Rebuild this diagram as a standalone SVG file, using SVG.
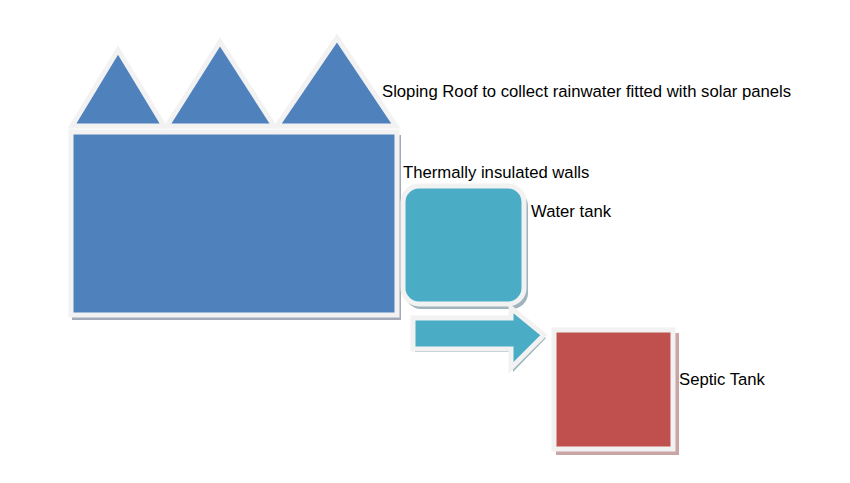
<svg xmlns="http://www.w3.org/2000/svg" width="850" height="483" viewBox="0 0 850 483">
<style>
.lbl{font-family:"Liberation Sans",Arial,sans-serif;font-size:16.7px;fill:#000}
.edge{stroke:#f2f2f2;stroke-width:5;stroke-linejoin:miter}
.sh{fill:#a3abb8}
.blue{fill:#4f81bd}
.teal{fill:#4bacc6}
.red{fill:#c0504d}
</style>
<rect width="850" height="483" fill="#ffffff"/>
<g id="roof">
<polygon class="edge blue" points="118,50 72,126 164,126"/>
<polygon class="edge blue" points="220,42 167,126 274,126"/>
<polygon class="edge blue" points="337,38 277,126 396,126"/>
</g>
<g id="walls">
<rect class="sh" x="72" y="135" width="329" height="185"/>
<rect class="edge blue" x="71" y="132" width="326" height="183"/>
</g>
<g id="water-tank">
<rect class="sh" x="405" y="190" width="123" height="119" rx="16" style="fill:#9fb4bd"/>
<rect class="edge teal" x="403" y="186" width="121" height="118" rx="16"/>
</g>
<g id="connectors">
<polygon class="sh" points="415,322 513,322 513,312 546,338 513,372 513,352 415,352" style="fill:#9fb4bd"/>
<polygon class="edge teal" points="413,318 511,318 511,308 544,335 511,368 511,349 413,349"/>
</g>
<g id="septic-tank">
<rect class="sh" x="556" y="333" width="123" height="122" style="fill:#c9a5a5"/>
<rect class="edge red" x="554" y="330" width="119" height="119"/>
</g>
<g id="labels">
<text class="lbl" x="382" y="97">Sloping Roof to collect rainwater fitted with solar panels</text>
<text class="lbl" x="403" y="178">Thermally insulated walls</text>
<text class="lbl" x="531" y="217">Water tank</text>
<text class="lbl" x="679" y="385">Septic Tank</text>
</g>
</svg>
